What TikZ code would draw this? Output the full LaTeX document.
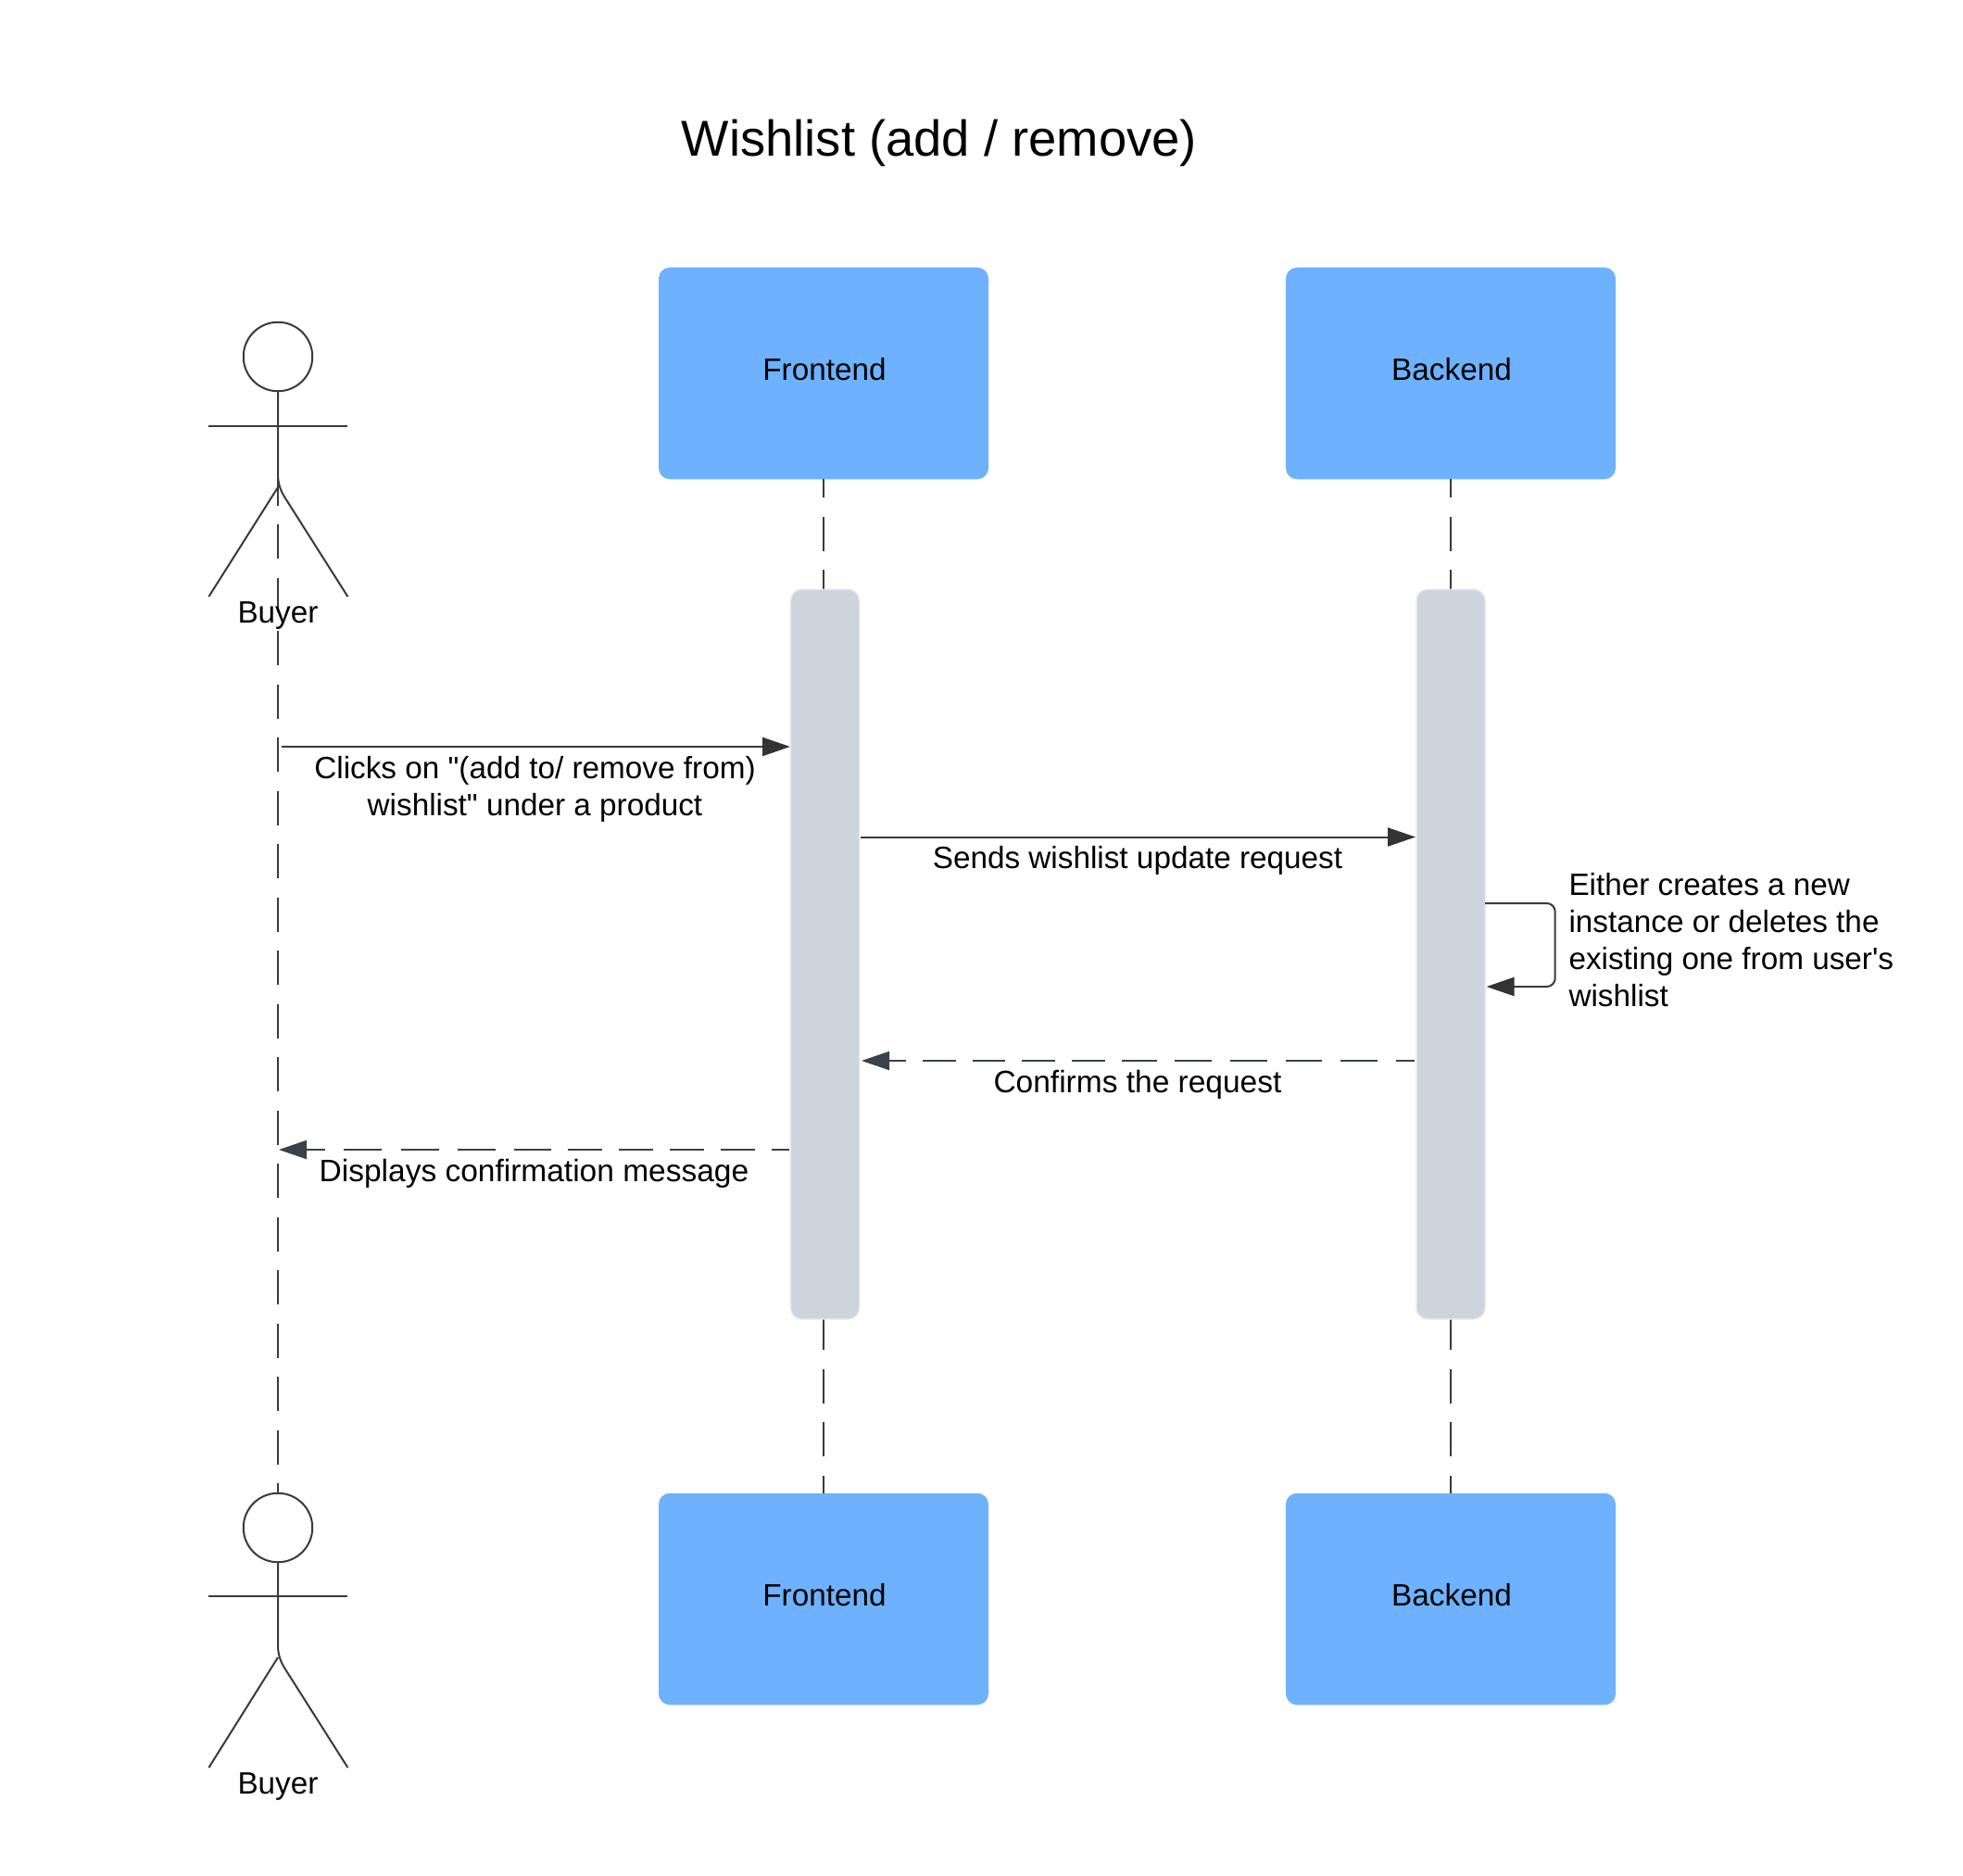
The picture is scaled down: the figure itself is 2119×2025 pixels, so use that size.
\documentclass[tikz,border=0pt]{standalone}
\usepackage{fontspec}
\setmainfont{Liberation Sans}[Ligatures={TeXOff,NoCommon}]
\usetikzlibrary{arrows.meta}
\definecolor{boxblue}{HTML}{6DB1FF}
\definecolor{actgrey}{HTML}{CED4DC}
\definecolor{actedge}{HTML}{E4E7EC}
\definecolor{inkline}{HTML}{3A3A3A}
\definecolor{dashline}{HTML}{3A414A}
\definecolor{tipdark}{HTML}{333333}
\definecolor{tipdash}{HTML}{3A414A}
\tikzset{
  x=1pt,y=-1pt,
  txt/.style={inner sep=0pt,outer sep=0pt,font=\fontsize{33.3}{40.3}\selectfont,text=black},
  txtwide/.style={txt,font=\fontsize{33.5}{40.3}\selectfont},
  party/.style={draw=none,fill=boxblue,rounded corners=12pt,minimum width=356pt,minimum height=228.5pt,inner sep=0pt,outer sep=0pt},
  actbar/.style={draw=actedge,line width=1.5pt,fill=actgrey,rounded corners=12pt,minimum width=74pt,minimum height=787.5pt,inner sep=0pt,outer sep=0pt},
  headc/.style={circle,draw=inkline,line width=2pt,minimum size=74.5pt,inner sep=0pt,outer sep=0pt},
  figure/.style={draw=inkline,line width=2pt},
  life/.style={draw=inkline,line width=2pt,dash pattern=on 37pt off 20.5pt},
  msg/.style={draw=inkline,line width=2pt,-{Triangle[length=30pt,width=20pt,fill=tipdark,color=tipdark]}},
  reply/.style={draw=dashline,line width=2pt,-{Triangle[length=30pt,width=20pt,fill=tipdash,color=tipdash]}}
}
\begin{document}
\begin{tikzpicture}
\useasboundingbox[fill=white] (0,0) rectangle (2119,2025);
% parties
\node[party] (fe1) at (889,403) {};
\node[party] (be1) at (1566,403) {};
\node[party] (fe2) at (889,1726) {};
\node[party] (be2) at (1566,1726) {};
% actor heads
\node[headc] (h1) at (300,385) {};
\node[headc] (h2) at (300,1649) {};
% lifelines
\coordinate (l0) at (300,508.5);
\draw[life] (l0) -- (h2.north);
\draw[life,dash phase=17pt] (fe1.south) -- (fe2.north);
\draw[life,dash phase=17pt] (be1.south) -- (be2.north);
% activation bars
\node[actbar] (a1) at (890.5,1030) {};
\node[actbar] (a2) at (1566,1030) {};
% actors
\draw[figure] (h1.south) -- (300,512) .. controls (300,522) and (303,530) .. (307.5,537) -- (375.4,644);
\draw[figure] (225.4,460) -- (375.4,460);
\draw[figure] (300,526) -- (225.4,644);
\draw[figure] (h2.south) -- (300,1776) .. controls (300,1786) and (303,1794) .. (307.5,1801) -- (375.4,1908);
\draw[figure] (225.4,1723) -- (375.4,1723);
\draw[figure] (300,1789) -- (225.4,1908);
% text
\node[txt,anchor=base] (t0) at (1014,169) {\fontsize{54.4}{60}\selectfont Wishlist (add / remove)};
\node[txt,anchor=base] (t1) at (300,672) {Buyer};
\node[txt,anchor=base] (t2) at (300,1936) {Buyer};
\node[txt,anchor=base] (t3) at (890,410) {Frontend};
\node[txt,anchor=base] (t4) at (1567,410) {Backend};
\node[txt,anchor=base] (t5) at (890,1733) {Frontend};
\node[txt,anchor=base] (t6) at (1567,1733) {Backend};
% messages
\coordinate (m1s) at (304,806);
\coordinate (m1e) at (853,806);
\draw[msg] (m1s) -- (m1e);
\node[txt,anchor=base] (t7) at (577.5,840) {Clicks on "(add to/ remove from)};
\node[txt,anchor=base] (t7b) at (577.5,880) {wishlist" under a product};
\coordinate (m2s) at (929,903.5);
\coordinate (m2e) at (1528,903.5);
\draw[msg] (m2s) -- (m2e);
\node[txt,anchor=base] (t8) at (1228,937.5) {Sends wishlist update request};
\coordinate (m3s) at (1603,975);
\coordinate (m3e) at (1604.5,1065);
\draw[msg,rounded corners=9pt] (m3s) -- (1678.7,975) -- (1678.7,1065) -- (m3e);
\node[txt,anchor=base west] (t9a) at (1693.5,966.5) {Either creates a new};
\node[txt,anchor=base west] (t9b) at (1693.5,1006.5) {instance or deletes the};
\node[txt,anchor=base west] (t9c) at (1693.5,1046.5) {existing one from user's};
\node[txt,anchor=base west] (t9d) at (1693.5,1086.5) {wishlist};
\coordinate (m4s) at (1527,1145);
\coordinate (m4e) at (930,1145);
\draw[reply,dash pattern=on 19.8pt off 20.6pt on 39.6pt off 20pt on 39pt off 20pt on 40pt off 20pt on 40pt off 19pt on 38pt off 18pt on 36pt off 18pt on 36pt off 18pt on 35pt off 18pt on 36pt off 18pt on 40pt off 1pt] (m4s) -- (m4e);
\node[txtwide,anchor=base] (t10) at (1228,1179) {Confirms the request};
\coordinate (m5s) at (852,1241);
\coordinate (m5e) at (301,1241);
\draw[reply,dash pattern=on 19pt off 18pt on 36.7pt off 18pt on 37pt off 18pt on 37pt off 18pt on 37pt off 18pt on 40pt off 20pt on 41pt off 20pt on 41pt off 21pt on 41pt off 20pt on 40pt off 1pt] (m5s) -- (m5e);
\node[txtwide,anchor=base] (t11) at (576.5,1275) {Displays confirmation message};
\end{tikzpicture}
\end{document}
